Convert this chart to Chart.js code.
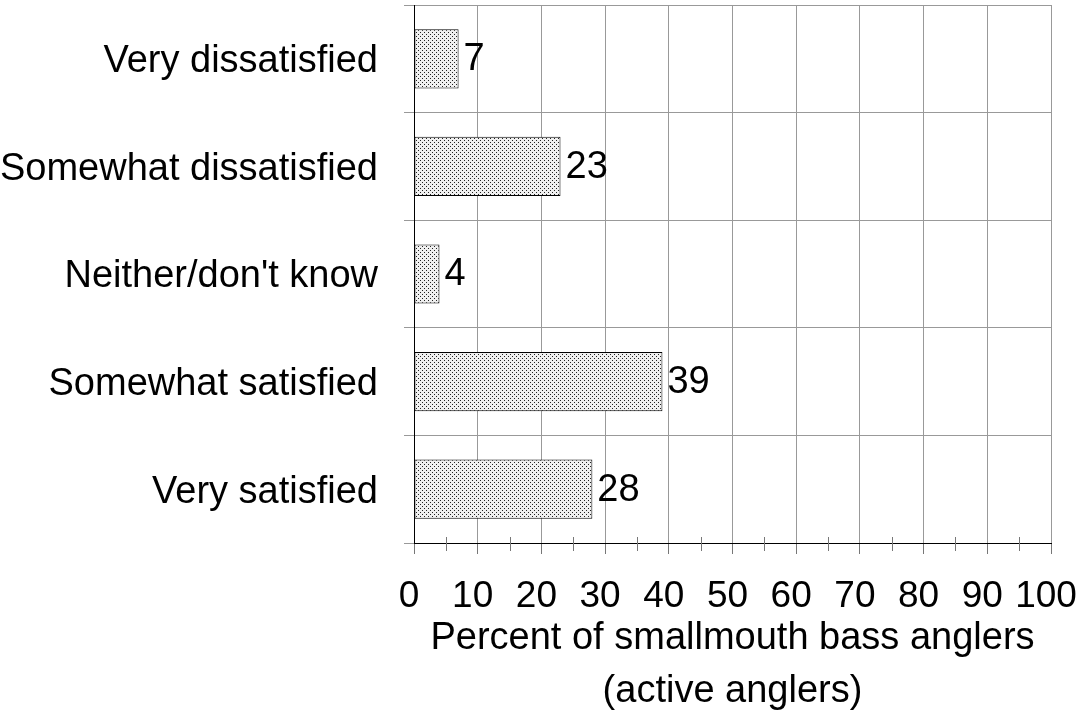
<!DOCTYPE html>
<html>
<head>
<meta charset="utf-8">
<script src="https://cdn.jsdelivr.net/npm/chart.js@4/dist/chart.umd.min.js"></script>
<style>
  html, body { margin: 0; padding: 0; background: #fff; }
  #wrap { width: 1078px; height: 713px; }
</style>
</head>
<body>
<div id="wrap"><canvas id="chart"></canvas></div>
<script>
const categories = ['Very dissatisfied', 'Somewhat dissatisfied', "Neither/don't know", 'Somewhat satisfied', 'Very satisfied'];
const percents = [7, 23, 4, 39, 28];
const xTicks = [0, 10, 20, 30, 40, 50, 60, 70, 80, 90, 100];
const minorTicks = [5, 15, 25, 35, 45, 55, 65, 75, 85, 95];
const axisTitle = ['Percent of smallmouth bass anglers', '(active anglers)'];

const FONT = '"Liberation Sans", Arial, sans-serif';

// stippled fill like the old print chart
function stipple() {
  const c = document.createElement('canvas');
  c.width = 4; c.height = 4;
  const g = c.getContext('2d');
  g.fillStyle = '#f0f0f0';
  g.fillRect(0, 0, 4, 4);
  g.fillStyle = '#222';
  g.fillRect(0, 0, 1, 1);
  g.fillRect(2, 2, 1, 1);
  return g.createPattern(c, 'repeat');
}

const valueLabels = {
  id: 'valueLabels',
  afterDatasetsDraw(chart) {
    const ctx = chart.ctx;
    const meta = chart.getDatasetMeta(0);
    ctx.save();
    ctx.font = '38px ' + FONT;
    ctx.fillStyle = '#000';
    ctx.textAlign = 'left';
    ctx.textBaseline = 'middle';
    meta.data.forEach((bar, i) => {
      ctx.fillText(String(percents[i]), bar.x + 5, bar.y + 1);
    });
    ctx.restore();
  }
};

const minorTickMarks = {
  id: 'minorTickMarks',
  afterDraw(chart) {
    const sx = chart.scales.x;
    const ctx = chart.ctx;
    ctx.save();
    ctx.strokeStyle = '#777';
    ctx.lineWidth = 1;
    minorTicks.forEach(v => {
      const x = Math.round(sx.getPixelForValue(v)) + 0.5;
      ctx.beginPath();
      ctx.moveTo(x, sx.top - 6);
      ctx.lineTo(x, sx.top + 8);
      ctx.stroke();
    });
    ctx.restore();
  }
};

new Chart(document.getElementById('chart'), {
  type: 'bar',
  data: {
    labels: categories,
    datasets: [{
      data: percents,
      backgroundColor: stipple(),
      borderColor: '#000',
      borderWidth: 1,
      borderSkipped: false,
      categoryPercentage: 1,
      barPercentage: 0.55
    }]
  },
  options: {
    indexAxis: 'y',
    responsive: true,
    maintainAspectRatio: false,
    animation: false,
    layout: { padding: { top: 5, right: 27, bottom: 0, left: 0 } },
    plugins: {
      legend: { display: false },
      tooltip: { enabled: false }
    },
    scales: {
      x: {
        min: 0,
        max: 100,
        afterBuildTicks: s => { s.ticks = xTicks.map(v => ({ value: v })); },
        afterFit: s => { s.height = 170; s.paddingLeft = 0; s.paddingRight = 0; },
        grid: { color: '#999', tickColor: '#777', tickLength: 11 },
        border: { color: '#000' },
        ticks: {
          color: '#000',
          font: { family: FONT, size: 37 },
          padding: 21,
          labelOffset: -5,
          maxRotation: 0,
          autoSkip: false
        },
        title: {
          display: true,
          text: axisTitle,
          color: '#000',
          font: { family: FONT, size: 38, lineHeight: 1.4 },
          padding: { top: 0, bottom: -5 }
        }
      },
      y: {
        afterFit: s => { s.width = 414; s.paddingTop = 0; s.paddingBottom = 0; },
        grid: { offset: true, color: '#999', tickColor: '#999', tickLength: 10 },
        border: { color: '#000' },
        ticks: {
          color: '#000',
          font: { family: FONT, size: 38 },
          padding: 26,
          labelOffset: 3
        }
      }
    }
  },
  plugins: [valueLabels, minorTickMarks]
});
</script>
</body>
</html>
